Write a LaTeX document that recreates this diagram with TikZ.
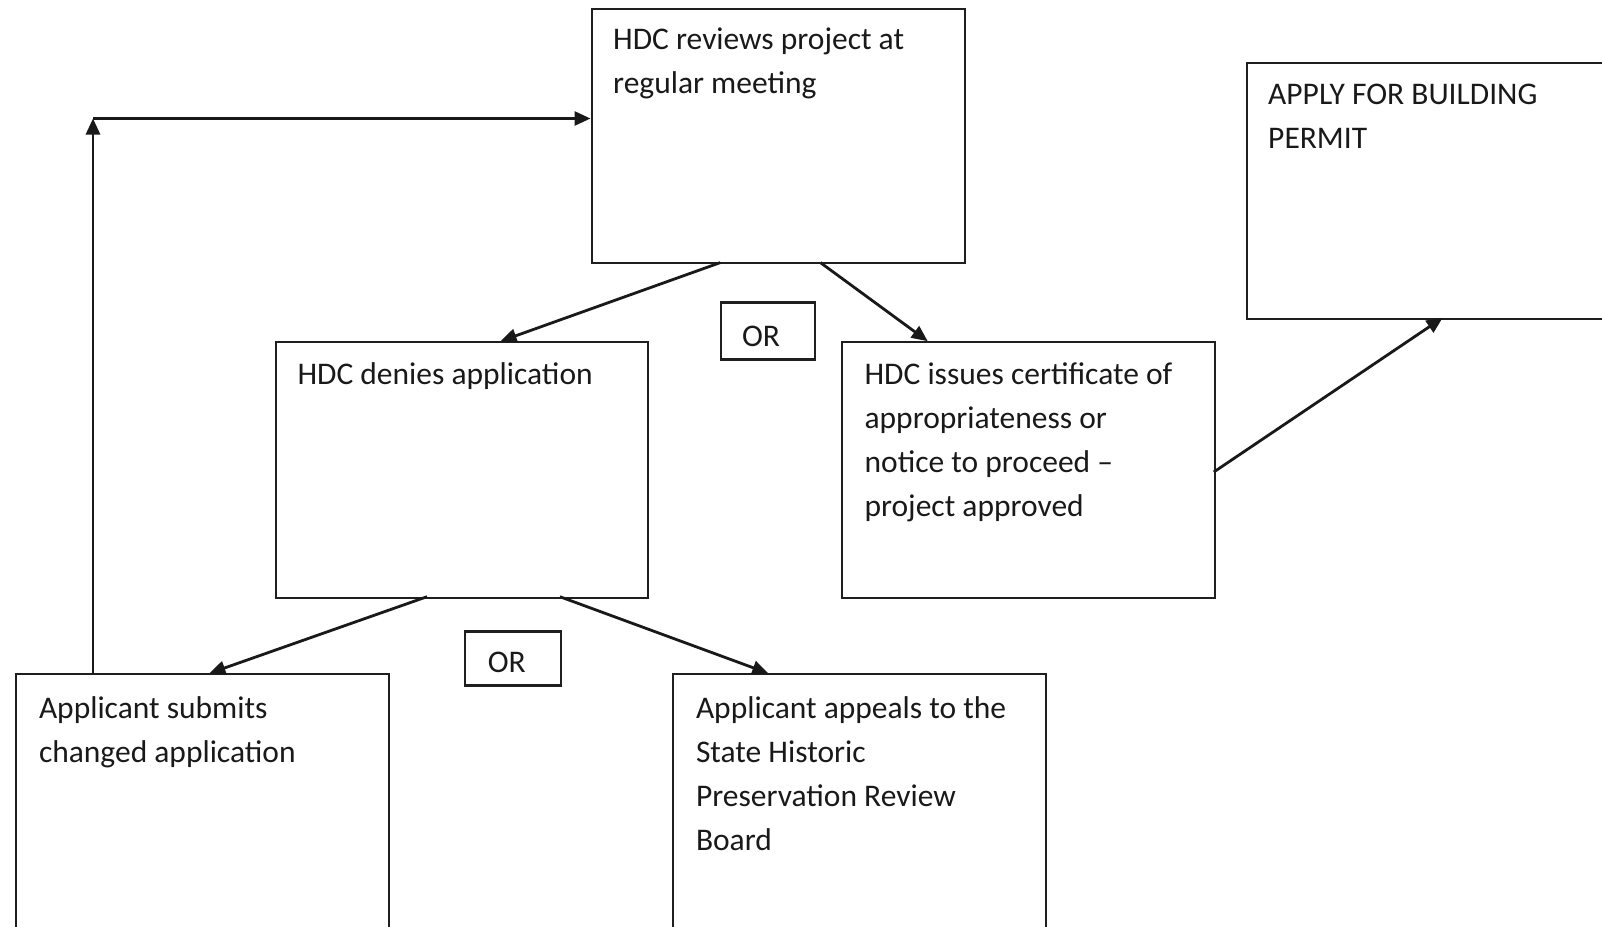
\documentclass[tikz,border=0pt]{standalone}
\usepackage{fontspec}
\setmainfont{Carlito}
\usetikzlibrary{arrows.meta}
\newcommand{\fl}{\rule{0pt}{23pt}}
\begin{document}
\begin{tikzpicture}[x=1pt,y=-1pt,
  box/.style={draw=black!88, line width=2.1pt},
  txt/.style={anchor=north west, inner sep=0pt, align=left, text=black!90,
    font=\fontsize{31.5}{44}\selectfont},
  ortxt/.style={inner sep=0pt, text=black!90, font=\fontsize{31.5}{36}\selectfont},
  arr/.style={draw=black!90, line width=2.8pt, -{Triangle[length=16pt,width=14pt]}},
  plain/.style={draw=black!90, line width=2.8pt}]
\useasboundingbox (0,0) rectangle (1602,926);
% boxes
\node[box, anchor=north west, minimum width=373pt, minimum height=254pt, inner sep=0pt] (rev) at (590.5,8.2) {};
\node[box, anchor=north west, minimum width=372pt, minimum height=256pt, inner sep=0pt] (den) at (274.8,341.2) {};
\node[box, anchor=north west, minimum width=373pt, minimum height=256pt, inner sep=0pt] (iss) at (840.9,341.2) {};
\node[box, anchor=north west, minimum width=380pt, minimum height=256pt, inner sep=0pt] (app) at (1245.5,62.3) {};
\node[box, anchor=north west, minimum width=373pt, minimum height=270pt, inner sep=0pt] (sub) at (15.3,673.3) {};
\node[box, anchor=north west, minimum width=373pt, minimum height=270pt, inner sep=0pt] (apl) at (672.3,673.3) {};
\node[box, anchor=north west, minimum width=94pt, minimum height=57pt, inner sep=0pt] (or1) at (720,301.4) {};
\node[box, anchor=north west, minimum width=96pt, minimum height=54pt, inner sep=0pt] (or2) at (463.8,630.4) {};
% texts (first baseline = y + 23)
\node[txt] (trev) at (613,26) {\fl HDC reviews project at\\regular meeting};
\node[txt] (tden) at (297.3,361) {\fl HDC denies application};
\node[txt] (tiss) at (864.4,361) {\fl HDC issues certificate of\\appropriateness or\\notice to proceed --\\project approved};
\node[txt] (tapp) at (1268,81) {\fl APPLY FOR BUILDING\\PERMIT};
\node[txt] (tsub) at (38.8,695) {\fl Applicant submits\\changed application};
\node[txt] (tapl) at (695.8,695) {\fl Applicant appeals to the\\State Historic\\Preservation Review\\Board};
\node[ortxt] (tor1) at ([xshift=-7pt,yshift=-5pt]or1.center) {OR};
\node[ortxt] (tor2) at ([xshift=-6pt,yshift=-4pt]or2.center) {OR};
% connectors
\coordinate (c1) at (93,118.5);
\coordinate (s1) at (93,673.3);
\coordinate (r1) at (720.3,262.6);
\coordinate (r2) at (820.4,262.6);
\coordinate (d1) at (500.6,341.2);
\coordinate (i1) at (927.7,341.2);
\coordinate (e1) at (427,596.7);
\coordinate (e2) at (559.9,596.7);
\coordinate (u1) at (209.4,673.3);
\coordinate (a1) at (768.3,673.3);
\coordinate (k1) at (1213.8,472);
\coordinate (p1) at (1442.6,317.8);
\draw[arr] (s1) -- (c1);
\draw[arr] (c1) -- (c1 -| rev.west);
\draw[arr] (r1) -- (d1);
\draw[arr] (r2) -- (i1);
\draw[arr] (e1) -- (u1);
\draw[arr] (e2) -- (a1);
\draw[arr] (k1) -- (p1);
\end{tikzpicture}
\end{document}
